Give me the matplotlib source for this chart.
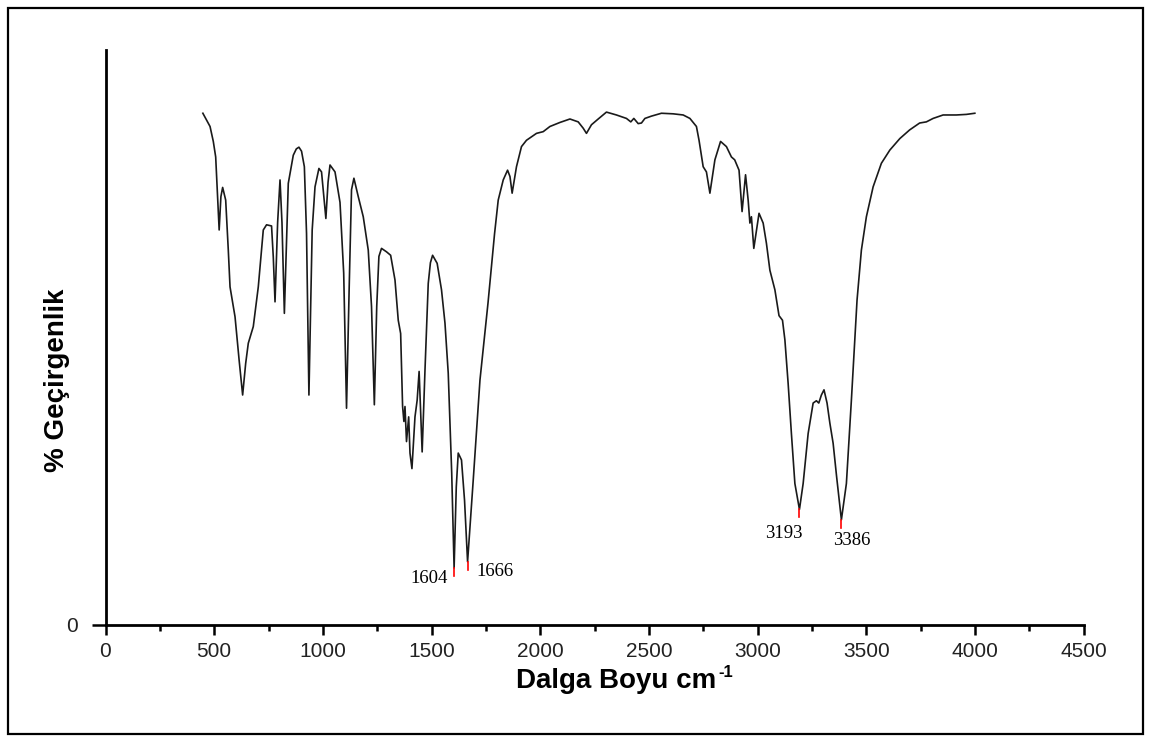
import numpy as np
import matplotlib.pyplot as plt
from matplotlib.patches import Rectangle
from matplotlib.ticker import MultipleLocator

# IR spektrumu (dalga sayisi, % gecirgenlik)
wavenumber = [448, 481, 496, 507, 523, 531, 539, 553, 565, 573, 583, 596, 615, 631, 645, 657,
              680, 703, 726, 741, 764, 772, 780, 792, 803, 812, 823, 841, 864, 878, 890, 902,
              915, 925, 936, 951, 964, 982, 994, 1014, 1024, 1033, 1056, 1079, 1096, 1109,
              1121, 1132, 1143, 1163, 1186, 1209, 1224, 1237, 1248, 1258, 1270, 1293, 1312,
              1332, 1347, 1358, 1367, 1373, 1378, 1385, 1395, 1401, 1410, 1424, 1434, 1443,
              1457, 1470, 1485, 1495, 1505, 1526, 1546, 1562, 1577, 1593, 1604, 1614, 1623,
              1638, 1652, 1666, 1692, 1723, 1760, 1790, 1807, 1830, 1850, 1861, 1871, 1891,
              1914, 1937, 1983, 2014, 2045, 2091, 2137, 2175, 2198, 2213, 2236, 2267, 2305,
              2351, 2397, 2417, 2431, 2451, 2466, 2482, 2512, 2558, 2612, 2658, 2689, 2719,
              2731, 2750, 2765, 2781, 2804, 2830, 2857, 2880, 2895, 2915, 2929, 2945, 2957,
              2965, 2972, 2983, 3007, 3026, 3041, 3057, 3080, 3099, 3115, 3126, 3141, 3156,
              3172, 3193, 3210, 3233, 3256, 3271, 3282, 3294, 3306, 3320, 3333, 3348, 3364,
              3386, 3409, 3432, 3448, 3458, 3478, 3501, 3532, 3570, 3609, 3655, 3700, 3746,
              3777, 3808, 3854, 3915, 3961, 4000]
transmittance = [89.0, 86.7, 84.1, 81.4, 68.7, 74.5, 76.1, 73.9, 65.2, 58.8, 56.5, 53.6, 46.0,
                 40.0, 45.5, 49.0, 51.9, 58.8, 68.7, 69.6, 69.4, 64.0, 56.2, 70.0, 77.4, 70.0,
                 54.2, 76.8, 81.7, 82.8, 83.1, 82.4, 79.7, 68.1, 40.0, 68.7, 76.2, 79.4, 78.8,
                 70.7, 77.0, 80.0, 78.8, 73.5, 61.2, 37.7, 58.3, 75.7, 77.7, 74.5, 71.0, 65.2,
                 55.4, 38.3, 55.4, 64.1, 65.5, 64.9, 64.3, 60.0, 53.0, 50.7, 38.0, 35.4, 38.0,
                 31.9, 36.2, 29.9, 27.2, 36.2, 39.1, 44.1, 30.1, 44.3, 59.4, 63.0, 64.3, 62.9,
                 58.3, 52.5, 43.8, 26.4, 9.9, 24.0, 29.9, 28.7, 21.7, 11.0, 25.2, 42.6, 56.0,
                 68.0, 73.9, 77.4, 79.1, 78.0, 75.1, 79.7, 83.2, 84.3, 85.5, 85.8, 86.7, 87.4,
                 88.0, 87.5, 86.4, 85.5, 87.0, 88.0, 89.2, 88.7, 88.1, 87.5, 88.1, 87.2, 87.3,
                 88.1, 88.5, 89.0, 88.9, 88.7, 88.1, 86.7, 84.3, 79.7, 78.8, 75.1, 80.9, 84.1,
                 83.2, 81.4, 80.9, 79.1, 71.9, 78.3, 73.9, 69.9, 71.0, 65.5, 71.6, 69.9, 66.4,
                 61.7, 58.3, 53.8, 53.0, 49.6, 42.0, 33.3, 24.6, 20.1, 24.6, 33.3, 38.6, 39.0,
                 38.6, 40.0, 40.9, 38.6, 35.1, 31.6, 25.8, 18.3, 24.6, 39.1, 50.0, 56.5, 65.2,
                 71.0, 76.2, 80.3, 82.6, 84.6, 86.1, 87.3, 87.5, 88.1, 88.7, 88.7, 88.8, 89.0]

# isaretlenen pikler
peak_x = [1604, 1666, 3193, 3386]
peak_y = [9.9, 11.0, 20.1, 18.3]
peak_labels = ['1604', '1666', '3193', '3386']
# etiket kaymasi (piksel)
label_dx = [-25, 27, -16, 10]
label_dy = [-10, -10, -24, -21]

fig = plt.figure(figsize=(11.52, 7.36), dpi=100)
fig.patches.append(Rectangle((8 / 1152, 2 / 736), 1135 / 1152, 726 / 736,
                             transform=fig.transFigure, fill=False,
                             edgecolor='black', linewidth=1.6))

ax = fig.add_axes([105.5 / 1152, 111 / 736, 978 / 1152, 575 / 736])
ax.plot(wavenumber, transmittance, color='#1a1a1a', linewidth=1.2,
        solid_joinstyle='round')

for px, py, lab, dx, dy in zip(peak_x, peak_y, peak_labels, label_dx, label_dy):
    ax.plot([px, px], [py, py - 1.4], color='red', linewidth=1.2)
    ax.annotate(lab, (px, py), xytext=(dx * 0.72, dy * 0.72), textcoords='offset points',
                ha='center', va='center', fontsize=13.5, family='Liberation Serif')

ax.set_xlim(0, 4500)
ax.set_ylim(0, 100)
ax.xaxis.set_major_locator(MultipleLocator(500))
ax.xaxis.set_minor_locator(MultipleLocator(250))
ax.set_yticks([0])
for s in ['top', 'right']:
    ax.spines[s].set_visible(False)
for s in ['left', 'bottom']:
    ax.spines[s].set_linewidth(2.0)
ax.tick_params(axis='x', which='major', length=7.5, width=1.8, pad=5, labelsize=15)
ax.tick_params(axis='x', which='minor', length=4.5, width=1.8)
ax.tick_params(axis='y', which='major', length=10, width=1.8, pad=10, labelsize=15)
for t in ax.get_xticklabels() + ax.get_yticklabels():
    t.set_family('Liberation Sans')
    t.set_color('#222222')

ax.set_xlabel('Dalga Boyu cm', fontsize=20, fontweight='bold', family='Liberation Sans')
ax.xaxis.set_label_coords(0.522, -0.075)
ax.set_ylabel('% Geçirgenlik', fontsize=20, fontweight='bold', family='Liberation Sans')
ax.yaxis.set_label_coords(-0.036, 0.426)

# ust indis "-1"
fig.canvas.draw()
bb = ax.xaxis.label.get_window_extent()
fig.text((bb.x1 + 2) / 1152, (bb.y1 + 3) / 736, '-1', fontsize=12, fontweight='bold',
         family='Liberation Sans', ha='left', va='top')

plt.savefig('out.png', dpi=100)
